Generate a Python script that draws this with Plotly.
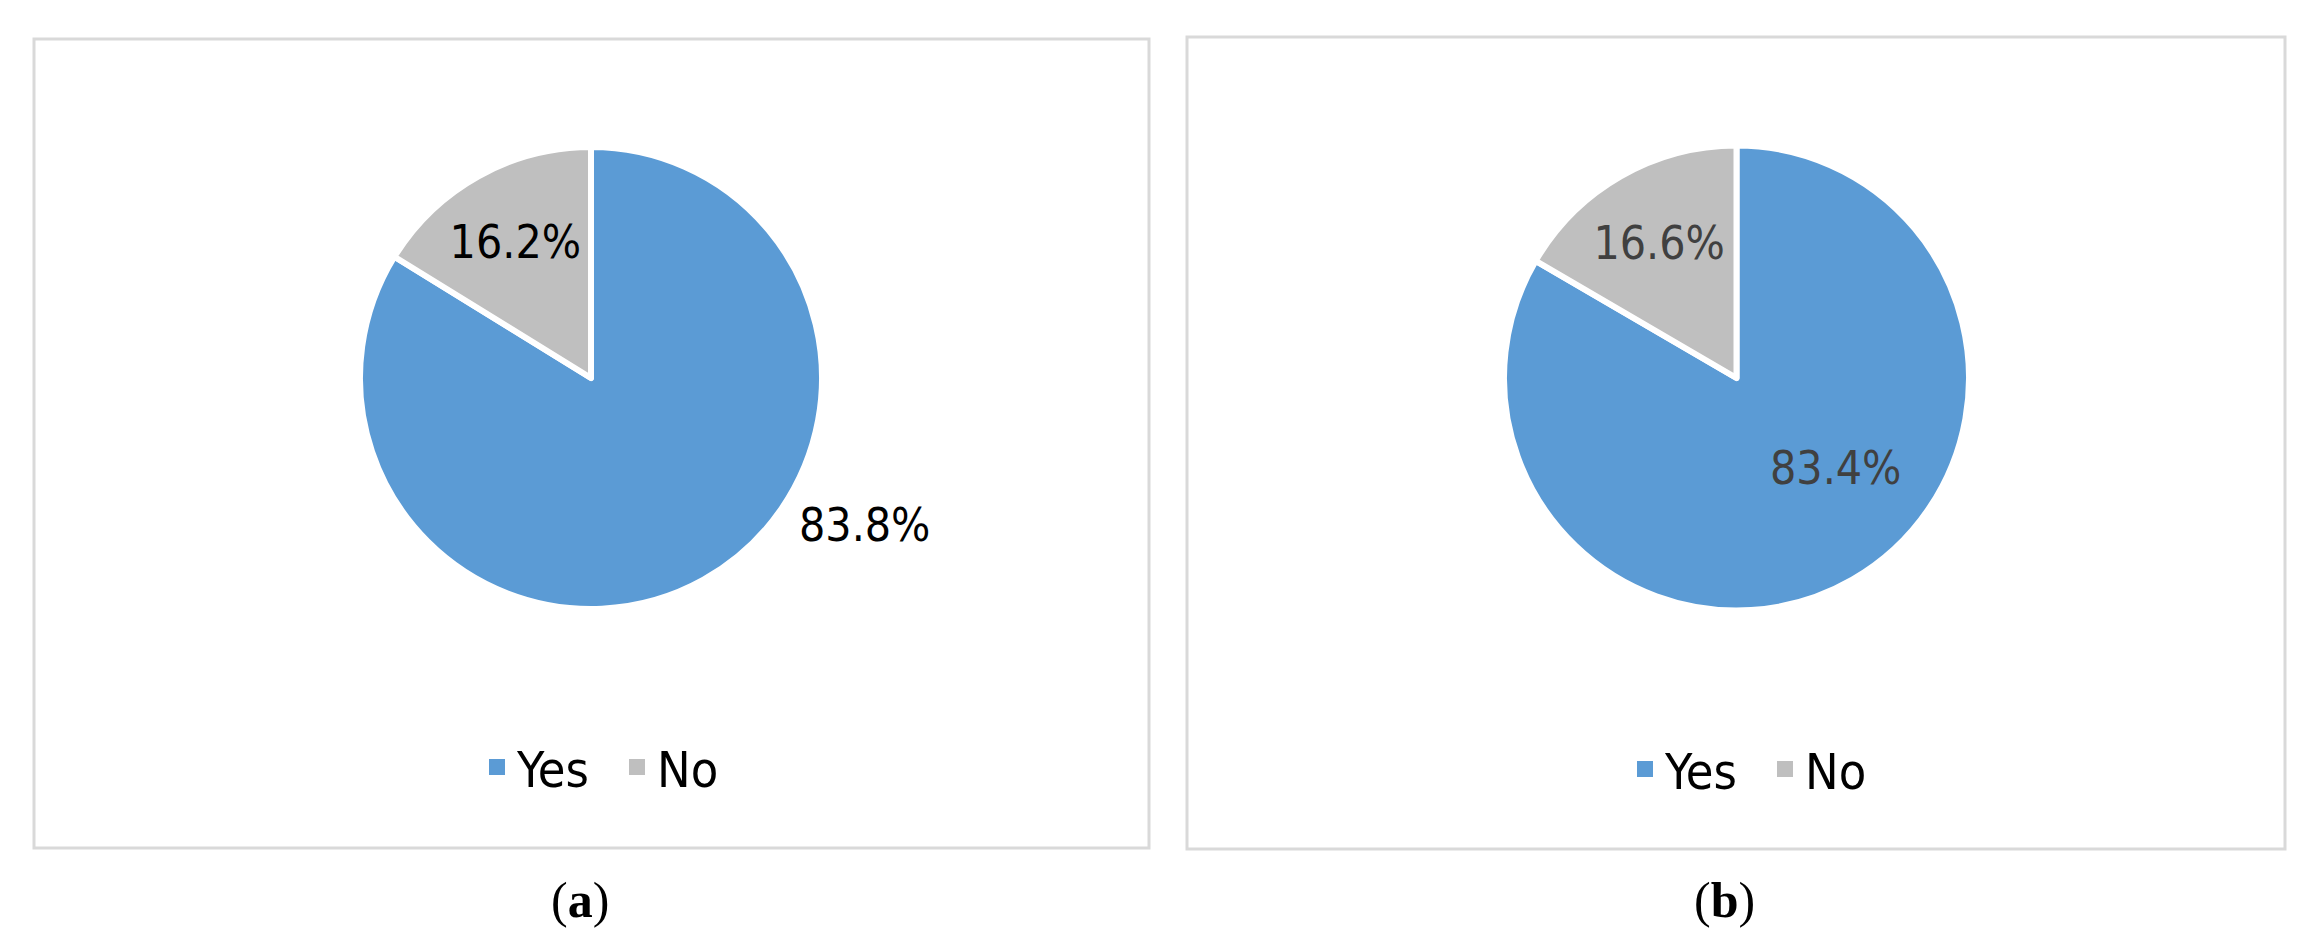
import plotly.graph_objects as go

categories = ["Yes", "No"]
values_a = [83.8, 16.2]
values_b = [83.4, 16.6]
captions = ["a", "b"]
colors = ["#5B9BD5", "#BFBFBF"]

# page body has an 8px default margin; size the figure to fit the window
OFF = 8
W, H = 2318 - OFF, 944 - OFF
FONT = "Liberation Sans Narrow, DejaVu Sans Condensed, Arial Narrow, sans-serif"
SERIF = "Liberation Serif, DejaVu Serif, serif"


def px(x):
    return (x - OFF) / W


def py(y):
    return 1 - (y - OFF) / H


def dom(cx, cy, r):
    return dict(x=[px(cx - r), px(cx + r)], y=[py(cy + r), py(cy - r)])


fig = go.Figure()

pies = [
    dict(values=values_a, center=(591, 378), r=231, color="#000000", legend="legend"),
    dict(values=values_b, center=(1736.5, 378), r=232.5, color="#404040", legend="legend2"),
]

for p in pies:
    vals = p["values"]
    fig.add_trace(go.Pie(
        labels=categories, values=vals, sort=False, direction="clockwise", rotation=0,
        marker=dict(colors=colors, line=dict(color="white", width=6)),
        text=[f"{v:.1f}%" for v in vals],
        texttemplate=["", "%{text}"], textinfo="text", textposition="inside",
        insidetextorientation="horizontal",
        textfont=dict(family=FONT, size=46, color=p["color"]),
        domain=dom(p["center"][0], p["center"][1], p["r"]),
        showlegend=False, hoverinfo="label+percent",
    ))
    # legend entries (square swatches)
    for cat, col in zip(categories, colors):
        fig.add_trace(go.Scatter(
            x=[None], y=[None], mode="markers", name=cat,
            marker=dict(symbol="square", size=20, color=col),
            legend=p["legend"], showlegend=True, hoverinfo="skip",
        ))

shapes = [
    dict(type="rect", xref="paper", yref="paper", x0=px(34), x1=px(1149), y0=py(848), y1=py(39),
         line=dict(color="#D9D9D9", width=3), fillcolor="rgba(0,0,0,0)", layer="below"),
    dict(type="rect", xref="paper", yref="paper", x0=px(1187), x1=px(2285), y0=py(849), y1=py(37),
         line=dict(color="#D9D9D9", width=3), fillcolor="rgba(0,0,0,0)", layer="below"),
]

annotations = [
    dict(text=f"{values_a[0]:.1f}%", x=px(864), y=py(525), xref="paper", yref="paper",
         showarrow=False, xanchor="center", yanchor="middle",
         font=dict(family=FONT, size=46, color="#000000")),
    dict(text=f"{values_b[0]:.1f}%", x=px(1835), y=py(468), xref="paper", yref="paper",
         showarrow=False, xanchor="center", yanchor="middle",
         font=dict(family=FONT, size=46, color="#404040")),
    dict(text=f"(<b>{captions[0]}</b>)", x=px(580), y=py(900), xref="paper", yref="paper",
         showarrow=False, xanchor="center", yanchor="middle",
         font=dict(family=SERIF, size=50, color="#000000")),
    dict(text=f"(<b>{captions[1]}</b>)", x=px(1724), y=py(900), xref="paper", yref="paper",
         showarrow=False, xanchor="center", yanchor="middle",
         font=dict(family=SERIF, size=50, color="#000000")),
]

legend_common = dict(orientation="h", xanchor="left", yanchor="middle",
                     font=dict(family=FONT, size=50, color="#000000"),
                     bgcolor="rgba(0,0,0,0)", itemsizing="trace", traceorder="normal",
                     entrywidth=95, entrywidthmode="pixels",
                     itemclick=False, itemdoubleclick=False)

fig.update_layout(
    width=W, height=H, margin=dict(l=0, r=0, t=0, b=0),
    paper_bgcolor="white", plot_bgcolor="white",
    showlegend=True,
    xaxis=dict(visible=False), yaxis=dict(visible=False),
    legend=dict(x=px(477), y=py(767), **legend_common),
    legend2=dict(x=px(1625), y=py(769), **legend_common),
    shapes=shapes, annotations=annotations,
)

fig.write_html("out.html")
